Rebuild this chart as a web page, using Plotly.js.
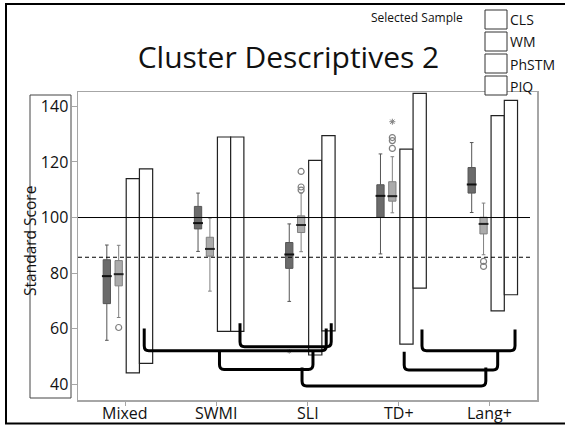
<!DOCTYPE html>
<html>
<head>
<meta charset="utf-8">
<script src="https://cdn.plot.ly/plotly-3.0.1.min.js"></script>
<style>html,body{margin:0;padding:0;background:#fff;}#chart{width:565px;height:426px;}</style>
</head>
<body>
<div id="chart"></div>
<script>
// ---------- data ----------
const categories = ['Mixed', 'SWMI', 'SLI', 'TD+', 'Lang+'];
const seriesNames = ['CLS', 'WM', 'PhSTM', 'PIQ'];

// CLS (dark boxes)
const clsLow  = [55.8, 87.8, 69.8, 86.9, 101.8];
const clsQ1   = [69.0, 95.9, 81.7, 100.1, 108.8];
const clsMed  = [78.9, 98.0, 86.7, 107.8, 111.9];
const clsQ3   = [84.8, 104.0, 91.0, 111.8, 118.0];
const clsHigh = [90.1, 108.8, 97.7, 122.9, 127.0];
const clsExtremeCat = [2];
const clsExtremeVal = [51.8];

// WM (light boxes)
const wmLow  = [64.0, 73.5, 87.7, 101.7, 86.6];
const wmQ1   = [75.4, 86.1, 94.6, 105.9, 94.1];
const wmMed  = [79.6, 88.7, 97.3, 107.7, 97.7];
const wmQ3   = [84.5, 92.9, 100.6, 112.9, 100.1];
const wmHigh = [90.0, 99.8, 108.8, 121.9, 105.2];
const wmOutCat = [0, 2, 2, 2, 3, 3, 3, 4, 4];
const wmOutVal = [60.4, 116.6, 111.0, 109.9, 124.9, 128.8, 127.7, 84.2, 82.4];
const wmExtremeCat = [3];
const wmExtremeVal = [134.5];

// PhSTM (range bars)
const phLow  = [44.1, 59.0, 50.5, 54.4, 66.4];
const phHigh = [114.0, 129.0, 120.6, 124.6, 136.7];
// PIQ (range bars)
const piqLow  = [47.5, 59.0, 59.2, 74.6, 72.2];
const piqHigh = [117.5, 129.0, 129.5, 144.7, 142.2];

// reference lines
const refSolid = 100;
const refDashed = 85.7;

// significance brackets
const brFrom    = [0, 1, 1, 2, 3, 3];
const brTo      = [2, 2, 2, 4, 4, 4];
const brFromOff = [0.21, 0.26, 0.035, -0.06, 0.06, 0.255];
const brToOff   = [0.205, 0.26, 0.06, -0.045, 0.085, 0.275];
const brTop     = [60.0, 61.9, 51.7, 46.0, 51.7, 59.7];
const brLevel   = [52.0, 53.5, 45.3, 39.3, 45.1, 52.0];

// ---------- layout helpers ----------
const W = 565, H = 426;
const L = 78, R = 537, T = 92, B = 400;
const px = x => (x - L) / (R - L);
const py = y => (B - y) / (B - T);
const FONT = 'Open Sans, sans-serif';

const offCls = -0.2, offWm = -0.07, offPh = 0.085, offPiq = 0.23;

const traces = [];
function boxTrace(off, q1, med, q3, lo, hi, fill, line) {
  return {
    type: 'box', x: categories.map((c, i) => i + off),
    q1: q1, median: med, q3: q3, lowerfence: lo, upperfence: hi,
    width: 0.08, whiskerwidth: 0.5, boxpoints: false,
    fillcolor: fill, line: {color: line, width: 1},
    hoverinfo: 'skip', showlegend: false
  };
}
traces.push(boxTrace(offCls, clsQ1, clsMed, clsQ3, clsLow, clsHigh, '#6b6b6b', '#555'));
traces.push(boxTrace(offWm, wmQ1, wmMed, wmQ3, wmLow, wmHigh, '#ababab', '#808080'));
traces.push({type: 'scatter', mode: 'markers', x: categories.map((c, i) => i + offCls), y: clsMed,
  marker: {symbol: 'line-ew', size: 7, line: {width: 2, color: '#111'}}, hoverinfo: 'skip', showlegend: false});
traces.push({type: 'scatter', mode: 'markers', x: categories.map((c, i) => i + offWm), y: wmMed,
  marker: {symbol: 'line-ew', size: 7, line: {width: 2, color: '#222'}}, hoverinfo: 'skip', showlegend: false});
traces.push({type: 'scatter', mode: 'markers', x: wmOutCat.map(i => i + offWm), y: wmOutVal,
  marker: {symbol: 'circle-open', size: 6, color: '#808080', line: {width: 1.2}}, hoverinfo: 'skip', showlegend: false});
traces.push({type: 'scatter', mode: 'markers', x: wmExtremeCat.map(i => i + offWm), y: wmExtremeVal,
  marker: {symbol: 'asterisk-open', size: 5, color: '#808080', line: {width: 1, color: '#808080'}}, hoverinfo: 'skip', showlegend: false});
traces.push({type: 'scatter', mode: 'markers', x: clsExtremeCat.map(i => i + offCls), y: clsExtremeVal,
  marker: {symbol: 'asterisk-open', size: 4, color: '#999', line: {width: 1, color: '#999'}}, hoverinfo: 'skip', showlegend: false});

function barTrace(off, lo, hi) {
  return {
    type: 'bar', x: categories.map((c, i) => i + off), base: lo, y: hi.map((h, i) => h - lo[i]),
    width: 0.145, marker: {color: '#ffffff', line: {color: '#222', width: 1.2}},
    hoverinfo: 'skip', showlegend: false
  };
}
traces.push(barTrace(offPh, phLow, phHigh));
traces.push(barTrace(offPiq, piqLow, piqHigh));

// ---------- shapes ----------
const shapes = [];
shapes.push({type: 'line', xref: 'paper', yref: 'y', x0: 0, x1: px(530), y0: refSolid, y1: refSolid,
  line: {color: '#000', width: 1}});
shapes.push({type: 'line', xref: 'paper', yref: 'y', x0: 0, x1: px(530), y0: refDashed, y1: refDashed,
  line: {color: '#000', width: 1, dash: '4px,3px'}});
for (let k = 0; k < brFrom.length; k++) {
  const x1 = brFrom[k] + brFromOff[k], x2 = brTo[k] + brToOff[k];
  const lv = brLevel[k], rx = 0.05, ry = 1.8;
  shapes.push({type: 'path', xref: 'x', yref: 'y',
    path: `M${x1},${brTop[k]} L${x1},${lv + ry} Q${x1},${lv} ${x1 + rx},${lv} L${x2 - rx},${lv} Q${x2},${lv} ${x2},${lv + ry} L${x2},${brTop[k]}`,
    line: {color: '#000', width: 3}});
}
// y-title box
shapes.push({type: 'rect', xref: 'paper', yref: 'paper', x0: px(30), x1: px(71), y0: py(398), y1: py(95),
  line: {color: '#444', width: 1}});
// figure border
shapes.push({type: 'rect', xref: 'paper', yref: 'paper', x0: px(6), x1: px(572), y0: py(423.5), y1: py(4),
  line: {color: '#000', width: 2}});

const annotations = [];
seriesNames.forEach((n, i) => {
  const top = 10 + i * 22;
  shapes.push({type: 'rect', xref: 'paper', yref: 'paper', x0: px(485), x1: px(507), y0: py(top + 19), y1: py(top),
    line: {color: '#333', width: 1}, fillcolor: '#fff'});
  annotations.push({xref: 'paper', yref: 'paper', x: px(508), y: py(top + 10), xanchor: 'left', yanchor: 'middle',
    text: n, showarrow: false, font: {family: FONT, size: 14, color: '#111'}});
});
annotations.push({xref: 'paper', yref: 'paper', x: px(417), y: py(17), xanchor: 'center', yanchor: 'middle',
  text: 'Selected Sample', showarrow: false, font: {family: FONT, size: 12, color: '#111'}});
annotations.push({xref: 'paper', yref: 'paper', x: px(30), y: py(241), xanchor: 'center', yanchor: 'middle',
  text: 'Standard Score', textangle: -90, showarrow: false, font: {family: FONT, size: 15.5, color: '#111'}});
// category labels
categories.forEach((c, i) => {
  annotations.push({xref: 'x', yref: 'paper', x: i, y: py(412.5), xanchor: 'center', yanchor: 'middle',
    text: c, showarrow: false, font: {family: FONT, size: 16, color: '#111'}});
});

const layout = {
  width: W, height: H,
  margin: {l: L, r: W - R, t: T, b: H - B, pad: 0},
  paper_bgcolor: '#fff', plot_bgcolor: '#fff',
  showlegend: false,
  boxmode: 'overlay', barmode: 'overlay',
  title: {text: 'Cluster Descriptives 2', x: 288.5 / W, y: 1 - 57 / H, xref: 'container', yref: 'container',
    xanchor: 'center', yanchor: 'middle', font: {family: FONT, size: 30, color: '#111'}},
  xaxis: {type: 'linear', range: [-0.516, 4.516], tickvals: categories.map((c, i) => i), showticklabels: false,
    showgrid: false, zeroline: false, showline: true, mirror: true, linecolor: '#a6a6a6', linewidth: 1.5,
    ticks: 'outside', ticklen: 4, tickcolor: '#a6a6a6'},
  yaxis: {range: [34.3, 145.2], tickvals: [40, 60, 80, 100, 120, 140],
    showgrid: false, zeroline: false, showline: true, mirror: true, linecolor: '#a6a6a6', linewidth: 1.5,
    ticks: 'outside', ticklen: 5, tickcolor: '#a6a6a6', tickfont: {family: FONT, size: 16, color: '#111'}},
  shapes: shapes, annotations: annotations
};

Plotly.newPlot('chart', traces, layout, {staticPlot: true, displayModeBar: false});
</script>
</body>
</html>
